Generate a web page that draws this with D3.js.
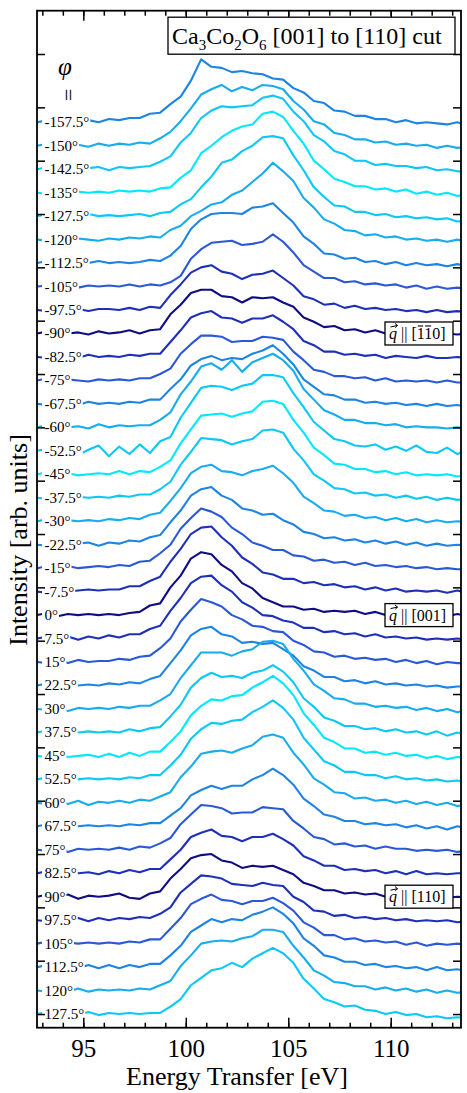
<!DOCTYPE html>
<html>
<head>
<meta charset="utf-8">
<script src="https://cdn.jsdelivr.net/npm/d3@7"></script>
<style>
  body { margin: 0; background: #fff; }
  text { font-family: "Liberation Serif", "Times New Roman", serif; fill: #000; }
</style>
</head>
<body>
<div id="chart"></div>
<script>
// energy grid of the spectra (eV)
var energies = [92.75, 93.25, 93.75, 94.25, 94.75, 95.25, 95.75, 96.25, 96.75, 97.25, 97.75,
  98.25, 98.75, 99.25, 99.75, 100.25, 100.75, 101.25, 101.75, 102.25, 102.75, 103.25, 103.75,
  104.25, 104.75, 105.25, 105.75, 106.25, 106.75, 107.25, 107.75, 108.25, 108.75, 109.25,
  109.75, 110.25, 110.75, 111.25, 111.75, 112.25, 112.75, 113.25, 113.75];

// sample angle phi of each spectrum, top to bottom
var angles = [-157.5, -150, -142.5, -135, -127.5, -120, -112.5, -105, -97.5, -90, -82.5, -75,
  -67.5, -60, -52.5, -45, -37.5, -30, -22.5, -15, -7.5, 0, 7.5, 15, 22.5, 30, 37.5, 45, 52.5,
  60, 67.5, 75, 82.5, 90, 97.5, 105, 112.5, 120, 127.5];

// intensity (arb. units) of each spectrum, same order as angles
var spectra = [
  [0,2,-1,1,-1,2,0,3,2,4,4,8,9,17,24,39,59,52,51,47,48,46,45,41,40,32,28,20,18,11,10,6,6,3,3,0,2,-1,0,-1,-2,0,-3],
  [0,2,-1,0,1,-1,2,0,2,1,3,2,7,13,23,35,48,53,57,51,55,52,57,56,53,42,34,23,20,12,10,6,6,3,4,1,2,0,1,-2,0,-2,-1],
  [0,2,-1,1,0,1,2,-1,2,1,2,3,7,12,25,34,48,55,59,58,59,60,67,69,66,54,45,32,26,17,14,8,8,4,5,3,3,1,2,-1,0,-2,-2],
  [0,-1,1,-1,1,0,1,0,2,1,2,1,4,5,14,21,37,44,52,58,62,64,74,76,71,58,46,30,22,13,10,6,6,3,4,1,3,-1,1,-2,0,-3,-2],
  [0,2,-1,1,-1,2,0,1,0,1,2,0,3,4,11,16,27,37,50,53,61,66,74,75,73,57,43,27,18,10,9,4,4,1,2,-1,0,-2,-1,-3,-2,-5,-4],
  [0,-1,2,0,1,0,-1,1,0,2,1,3,2,9,13,22,27,33,35,42,46,54,62,72,64,55,39,30,19,15,9,8,4,5,2,3,0,1,-1,0,-2,0,-2],
  [0,2,0,-1,1,0,2,0,1,0,1,3,2,7,16,32,41,46,47,47,46,52,53,56,47,38,25,18,9,8,4,5,1,2,-1,1,-2,0,-2,-1,-3,-1,-3],
  [0,1,-1,2,-1,1,0,1,0,2,0,2,1,4,10,26,35,41,42,43,39,40,42,49,42,32,20,14,8,8,4,5,2,3,1,2,-1,1,-2,0,-2,-1,-2],
  [0,-1,2,0,1,-1,1,1,0,2,0,3,2,14,24,35,40,42,36,34,29,33,34,37,30,23,13,10,5,6,2,4,1,2,0,1,-1,0,-2,0,-2,-1,-2],
  [0,2,-1,0,1,-1,2,0,1,3,0,3,4,18,27,38,41,41,35,34,29,34,33,34,29,25,15,11,6,7,3,4,1,3,0,2,-1,1,0,-1,0,-1,0],
  [0,-1,1,0,-1,2,0,1,0,2,1,3,3,14,25,37,41,43,37,36,32,36,36,39,33,26,15,11,5,5,2,3,1,2,-1,1,0,-1,1,-1,-1,0,-1],
  [0,2,-1,1,0,-1,1,0,1,0,2,2,6,11,25,34,42,42,41,36,37,37,41,40,38,27,19,10,8,4,4,2,3,0,2,-1,0,-1,0,-2,0,-2,-2],
  [0,-1,0,1,-1,2,0,1,0,2,1,4,4,14,23,36,42,45,41,43,42,47,50,55,47,37,23,16,9,8,4,4,1,2,0,1,-1,0,-2,0,-2,-1,-3],
  [0,2,-1,0,1,-1,3,0,2,1,2,2,7,14,31,43,57,60,54,63,52,61,65,69,63,53,36,26,16,12,7,7,4,4,2,3,0,1,0,0,-1,0,-1],
  [0,2,-2,3,-4,1,5,-5,4,-3,6,-2,9,13,31,45,59,61,60,57,61,63,71,71,69,54,41,27,19,11,9,5,4,6,1,4,0,5,-1,-2,3,-3,1],
  [0,2,-1,1,-1,0,1,0,3,0,3,2,7,13,29,42,55,56,57,54,57,59,68,69,66,51,39,25,18,10,9,5,5,2,3,0,2,-1,0,-1,0,-2,-1],
  [0,-1,2,-1,1,0,1,0,2,1,3,3,8,15,31,43,56,55,54,50,53,55,63,64,61,46,35,22,16,9,8,4,5,2,3,0,2,-1,1,-2,0,-2,-1],
  [0,2,-1,1,0,1,0,2,1,3,2,6,8,19,31,45,51,53,47,46,43,47,49,52,45,36,23,17,10,9,5,6,3,4,1,3,0,2,-1,1,-1,0,-1],
  [0,-1,2,0,1,2,-1,2,1,4,3,7,9,21,32,46,52,54,46,42,34,32,28,29,23,19,12,10,6,7,4,5,2,4,1,3,0,2,-1,1,-1,0,-1],
  [0,2,-1,2,0,1,2,1,3,2,6,7,14,22,37,47,56,53,48,38,32,24,21,17,17,12,11,7,8,5,6,3,5,2,3,1,2,0,1,-1,0,-1,-1],
  [0,-1,2,0,1,2,1,2,2,5,5,10,14,28,40,54,60,61,51,43,32,26,18,16,12,12,8,9,6,7,4,5,2,4,1,3,0,1,0,1,-1,1,-1],
  [0,2,-1,1,0,1,0,1,0,2,3,9,11,26,37,53,59,57,47,41,30,25,16,12,8,8,5,6,3,4,3,4,1,3,0,2,-1,2,0,1,-1,1,-1],
  [0,2,-1,2,-1,2,0,3,1,4,4,9,12,26,38,52,58,59,50,44,34,29,22,21,17,15,10,10,6,7,4,5,2,4,1,2,0,1,-1,0,-1,0,-1],
  [0,-1,2,-1,2,0,1,1,3,2,5,6,13,22,38,49,59,56,52,44,40,34,33,29,28,20,16,10,9,5,6,3,4,2,3,0,2,-1,1,-2,0,-1,-1],
  [0,2,-1,1,0,1,0,2,1,3,2,6,9,21,33,47,53,55,48,46,40,41,39,40,34,28,18,14,8,8,4,5,2,4,1,2,0,1,-1,0,-2,-1,-1],
  [0,-1,2,-2,1,0,1,0,2,1,3,3,8,14,29,41,53,53,53,50,54,56,63,64,61,47,36,23,17,10,9,5,5,2,3,1,2,-1,1,-2,0,-3,-1],
  [0,2,-1,1,0,1,0,1,0,3,1,4,5,15,26,42,51,56,52,53,51,56,58,63,57,47,32,24,14,11,6,6,3,4,1,3,0,1,-2,1,-3,0,-2],
  [0,-1,2,-1,0,1,-1,2,-1,3,0,4,4,13,23,38,47,53,52,56,57,64,69,75,68,57,40,29,17,13,7,7,3,4,1,3,0,1,-2,0,-3,-1,-2],
  [0,2,-2,1,0,1,0,1,0,2,1,4,4,13,23,38,47,53,52,55,56,63,68,74,67,56,39,28,17,13,7,7,4,4,1,3,0,1,-1,0,-2,-1,-3],
  [0,-1,2,-1,2,-2,1,0,2,0,3,2,6,10,24,34,46,48,49,47,51,54,62,64,61,47,36,23,17,10,9,4,5,2,3,0,2,-1,1,-2,0,-3,-2],
  [0,2,-1,1,0,1,0,1,0,2,1,3,3,10,17,29,34,38,35,38,38,44,48,54,48,39,26,19,11,9,5,5,2,3,1,2,-1,1,-2,0,-3,0,-2],
  [0,-1,2,-2,1,0,1,0,2,0,3,2,6,11,24,33,42,41,39,34,35,35,40,39,38,27,20,12,10,5,6,3,4,1,3,1,1,-1,0,-1,0,-2,-1],
  [0,2,-1,1,0,1,-1,2,0,3,1,4,4,13,22,34,38,41,35,34,30,34,34,37,32,26,16,12,7,7,3,4,2,3,0,2,-1,2,-1,0,-1,0,0],
  [0,2,-1,2,-2,1,0,1,3,-1,-2,3,5,17,26,36,39,40,34,32,27,29,28,29,25,21,13,10,6,6,3,4,2,3,0,2,0,1,-1,0,-1,0,-1],
  [0,-1,2,-1,2,-1,2,0,2,1,3,2,6,12,26,34,42,41,39,34,33,32,35,33,32,22,17,9,8,4,5,2,3,1,2,0,1,-1,0,-1,0,-2,-1],
  [0,2,-1,1,0,1,0,1,0,2,1,4,4,14,24,37,42,46,41,40,37,40,40,43,38,31,20,15,8,8,4,5,2,3,1,2,-1,1,-2,0,-1,0,-1],
  [0,2,-1,0,-1,2,-1,2,-1,2,0,3,3,11,20,33,39,45,42,45,44,49,52,56,50,41,27,20,11,9,5,5,2,3,0,1,-1,0,-3,0,-3,-2,-4],
  [0,-1,2,-1,2,-1,1,0,1,0,2,1,5,9,23,33,44,46,47,46,49,51,57,57,55,42,31,19,14,8,7,4,4,1,3,0,2,-1,1,-2,0,-2,-1],
  [0,2,-1,0,-1,2,-1,1,0,1,0,1,1,7,14,27,34,41,43,48,44,52,57,62,57,48,33,24,14,11,7,8,4,3,0,2,-1,0,-3,-2,-4,-3,-4]
];

// curves marked with the q direction
var markedAngles = [-90, 0, 90];
var markedDirs = [["1", "1", "0"], ["0", "0", "1"], ["1", "1", "0"]];
var markedBars = [[true, true, false], [false, false, false], [false, false, false]];

var xMajorTicks = [95, 100, 105, 110];
var xMinorTicks = [93, 94, 95, 96, 97, 98, 99, 100, 101, 102, 103, 104, 105, 106, 107, 108, 109, 110, 111, 112, 113];
var yTicks = [0, 50, 100, 150, 200, 250, 300, 350, 400, 450, 500, 550, 600, 650, 700, 750, 800, 850, 900];

// vertical shift between neighbouring spectra (arb. units)
var curveStep = 22;

// colour by distance of phi from the nearest multiple of 90 degrees (0, 7.5, ... 45)
var palette = ["#0e0e82", "#1f30b8", "#2a58d6", "#1d84e4", "#17acee", "#0cc8f6", "#00e8fc"];

function curveColor(a) {
  var m = ((a % 90) + 90) % 90;
  var d = Math.min(m, 90 - m);
  return palette[Math.round(d / 7.5)];
}

var svgWidth = 467;
var svgHeight = 1093;

var chartMargin = { top: 10.7, right: 6, bottom: 65.3, left: 37 };
var chartWidth = svgWidth - chartMargin.left - chartMargin.right;
var chartHeight = svgHeight - chartMargin.top - chartMargin.bottom;

var svg = d3.select("#chart")
  .append("svg")
  .attr("width", svgWidth)
  .attr("height", svgHeight)
  .style("background", "#fff");

var chartGroup = svg.append("g")
  .attr("transform", `translate(${chartMargin.left}, ${chartMargin.top})`);

var xScale = d3.scaleLinear()
  .domain([92.74, 113.43])
  .range([0, chartWidth]);

var yScale = d3.scaleLinear()
  .domain([-12.8, 940.6])
  .range([chartHeight, 0]);

svg.append("defs").append("clipPath")
  .attr("id", "plot-clip")
  .append("rect")
  .attr("width", chartWidth)
  .attr("height", chartHeight);

function offsetOf(j) {
  return (angles.length - 1 - j) * curveStep;
}

// spectra
var curveLine = d3.line()
  .x(function(d, i) { return xScale(energies[i]); })
  .y(function(d) { return yScale(d); });

var curves = chartGroup.append("g").attr("clip-path", "url(#plot-clip)");

spectra.forEach(function(values, j) {
  var off = offsetOf(j);
  curves.append("path")
    .attr("d", curveLine(values.map(function(v) { return v + off; })))
    .attr("fill", "none")
    .attr("stroke", curveColor(angles[j]))
    .attr("stroke-width", 2.1)
    .attr("stroke-linejoin", "round");
});

// angle labels on white patches
angles.forEach(function(a, j) {
  var yPos = yScale(offsetOf(j));
  var g = chartGroup.append("g");
  var patch = g.append("rect").attr("fill", "#fff");
  var label = g.append("text")
    .attr("x", 7.5)
    .attr("y", yPos + 5)
    .style("font-size", "15px")
    .text(a + "\u00b0");
  var w = label.node().getComputedTextLength();
  patch.attr("x", 5).attr("y", yPos - 7).attr("width", w + 3.5).attr("height", 14);
});

// axes: ticks point inward, frame drawn separately
function styleAxis(g) {
  g.select(".domain").remove();
  g.selectAll(".tick line").attr("stroke", "#000").attr("stroke-width", 1.5);
}

chartGroup.append("g")
  .attr("transform", `translate(0, ${chartHeight})`)
  .call(d3.axisBottom(xScale).tickValues(xMinorTicks).tickSize(-5).tickFormat(""))
  .call(styleAxis);

chartGroup.append("g")
  .attr("transform", `translate(0, ${chartHeight})`)
  .call(d3.axisBottom(xScale).tickValues(xMajorTicks).tickSize(-10).tickPadding(12).tickFormat(d3.format("d")))
  .call(styleAxis)
  .selectAll("text")
  .style("font-size", "25px")
  .style("font-family", "'Liberation Serif', serif")
  .attr("fill", "#000");

chartGroup.append("g")
  .call(d3.axisTop(xScale).tickValues(xMinorTicks).tickSize(-5).tickFormat(""))
  .call(styleAxis);

chartGroup.append("g")
  .call(d3.axisTop(xScale).tickValues(xMajorTicks).tickSize(-10).tickFormat(""))
  .call(styleAxis);

chartGroup.append("g")
  .call(d3.axisLeft(yScale).tickValues(yTicks).tickSize(-8).tickFormat(""))
  .call(styleAxis);

chartGroup.append("g")
  .attr("transform", `translate(${chartWidth}, 0)`)
  .call(d3.axisRight(yScale).tickValues(yTicks).tickSize(-8).tickFormat(""))
  .call(styleAxis);

chartGroup.append("rect")
  .attr("width", chartWidth)
  .attr("height", chartHeight)
  .attr("fill", "none")
  .attr("stroke", "#000")
  .attr("stroke-width", 1.8);

// q direction boxes at the right end of the marked curves
markedAngles.forEach(function(a, n) {
  var j = angles.indexOf(a);
  var cy = yScale(offsetOf(j));
  var bx = 348, bw = 68, bh = 23;
  var g = chartGroup.append("g");
  g.append("rect")
    .attr("x", bx).attr("y", cy - bh / 2)
    .attr("width", bw).attr("height", bh)
    .attr("fill", "#fff").attr("stroke", "#000").attr("stroke-width", 1.3);
  var t = g.append("text")
    .attr("x", bx + 4)
    .attr("y", cy + 5.5)
    .style("font-size", "16px");
  t.append("tspan").style("font-style", "italic").text("q");
  t.append("tspan").text(" || [");
  markedDirs[n].forEach(function(ch) { t.append("tspan").text(ch); });
  t.append("tspan").text("]");

  var node = t.node();
  var qBox = node.getExtentOfChar(0);
  var ay = cy - 6.5;
  g.append("path")
    .attr("d", `M${qBox.x + 1.5},${ay} L${qBox.x + 8.5},${ay - 1.5} M${qBox.x + 6},${ay - 3.6} L${qBox.x + 8.5},${ay - 1.5} L${qBox.x + 6.3},${ay + 0.6}`)
    .attr("fill", "none").attr("stroke", "#000").attr("stroke-width", 1);
  markedBars[n].forEach(function(bar, i) {
    if (!bar) return;
    var e = node.getExtentOfChar(6 + i);
    g.append("line")
      .attr("x1", e.x + 1).attr("x2", e.x + e.width - 1)
      .attr("y1", cy - 7.5).attr("y2", cy - 7.5)
      .attr("stroke", "#000").attr("stroke-width", 1.1);
  });
});

// title box
var titleGroup = chartGroup.append("g");
titleGroup.append("rect")
  .attr("x", 131).attr("y", 6.5)
  .attr("width", 287).attr("height", 37)
  .attr("fill", "#fff").attr("stroke", "#000").attr("stroke-width", 1.3);
var title = titleGroup.append("text")
  .attr("x", 135)
  .attr("y", 33.5)
  .style("font-size", "24px");
title.append("tspan").text("Ca");
title.append("tspan").attr("dy", 6).style("font-size", "15px").text("3");
title.append("tspan").attr("dy", -6).text("Co");
title.append("tspan").attr("dy", 6).style("font-size", "15px").text("2");
title.append("tspan").attr("dy", -6).text("O");
title.append("tspan").attr("dy", 6).style("font-size", "15px").text("6");
title.append("tspan").attr("dy", -6).text(" [001] to [110] cut");

// phi heading over the labels
svg.append("text")
  .attr("x", 65).attr("y", 75)
  .attr("text-anchor", "middle")
  .style("font-size", "25px")
  .style("font-style", "italic")
  .text("\u03c6");
svg.append("text")
  .attr("transform", "translate(61, 95) rotate(90)")
  .attr("text-anchor", "middle")
  .style("font-size", "22px")
  .text("=");

// axis titles
svg.append("text")
  .attr("x", 237)
  .attr("y", 1085)
  .attr("text-anchor", "middle")
  .style("font-size", "26px")
  .text("Energy Transfer [eV]");

svg.append("text")
  .attr("transform", "translate(27, 540) rotate(-90)")
  .attr("text-anchor", "middle")
  .style("font-size", "26px")
  .text("Intensity [arb. units]");
</script>
</body>
</html>
